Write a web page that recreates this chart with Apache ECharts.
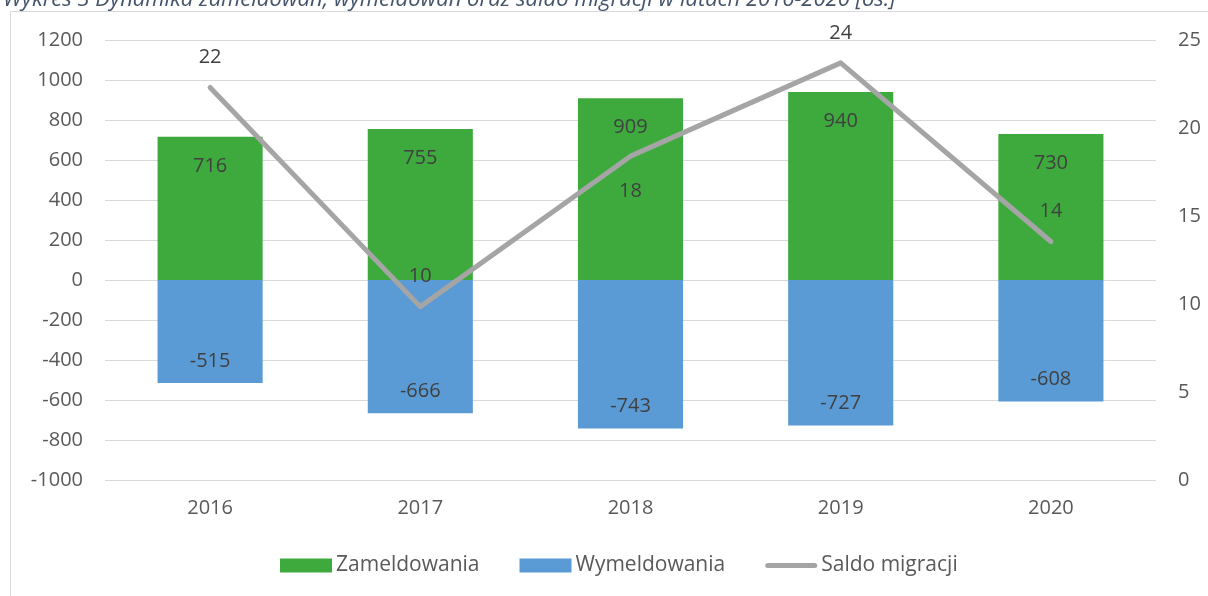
<!DOCTYPE html>
<html>
<head>
<meta charset="utf-8">
<script src="https://cdn.jsdelivr.net/npm/echarts@6/dist/echarts.min.js"></script>
<style>
  html, body { margin: 0; padding: 0; background: #fff; }
  #chart { width: 1208px; height: 596px; }
</style>
</head>
<body>
<div id="chart"></div>
<script>
const years = ['2016', '2017', '2018', '2019', '2020']
const zameldowania = [716, 755, 909, 940, 730]
const wymeldowania = [-515, -666, -743, -727, -608]
const saldo = [22.3, 9.85, 18.4, 23.7, 13.55]
// saldo label placement (18 sits under the line in the original)
const saldoLabelPos = ['top', 'top', 'bottom', 'top', 'top']

const font = 'Open Sans'
const tickColor = '#595959'
const labelColor = '#404040'

const chart = echarts.init(document.getElementById('chart'))

const option = {
  animation: false,
  textStyle: {fontFamily: font},
  title: {
    text: 'Wykres 3 Dynamika zameldowań, wymeldowań oraz saldo migracji w latach 2016-2020 [os.]',
    left: 3,
    top: -11,
    padding: 0,
    textStyle: {
      fontFamily: font,
      fontStyle: 'italic',
      fontWeight: 'normal',
      fontSize: 22,
      color: '#44546A'
    }
  },
  graphic: [{
    type: 'rect',
    shape: {x: 10.5, y: 11.5, width: 1400, height: 800},
    style: {fill: 'none', stroke: '#D9D9D9', lineWidth: 1},
    silent: true
  }],
  legend: {
    bottom: 15,
    left: 275,
    itemWidth: 52,
    itemHeight: 14,
    itemGap: 40,
    textStyle: {fontFamily: font, fontSize: 21, color: tickColor, padding: [0, 0, 0, -1]},
    data: [
      {name: 'Zameldowania', icon: 'rect'},
      {name: 'Wymeldowania', icon: 'rect'},
      {name: 'Saldo migracji', icon: 'path://M2.5,0h47a2.5,2.5,0,0,1,0,5h-47a2.5,2.5,0,0,1,0,-5z'}
    ]
  },
  grid: {left: 105, right: 52, top: 40, bottom: 116},
  xAxis: {
    type: 'category',
    data: years,
    axisLine: {show: false},
    axisTick: {show: false},
    axisLabel: {fontSize: 20, color: tickColor, margin: 18}
  },
  yAxis: [{
    type: 'value',
    min: -1000,
    max: 1200,
    interval: 200,
    axisLabel: {fontSize: 20, color: tickColor, margin: 22, formatter: (v) => String(v)},
    splitLine: {lineStyle: {color: '#D9D9D9', width: 1}}
  }, {
    type: 'value',
    min: 0,
    max: 25,
    interval: 5,
    axisLabel: {fontSize: 20, color: tickColor, margin: 22, formatter: (v) => String(v)},
    splitLine: {show: false}
  }],
  series: [{
    name: 'Zameldowania',
    type: 'bar',
    stack: 'ruch',
    barWidth: '50%',
    itemStyle: {color: '#3EAA3E'},
    label: {
      show: true,
      position: 'insideTop',
      distance: 19,
      fontSize: 20,
      color: labelColor
    },
    data: zameldowania
  }, {
    name: 'Wymeldowania',
    type: 'bar',
    stack: 'ruch',
    barWidth: '50%',
    itemStyle: {color: '#5B9BD5'},
    label: {
      show: true,
      position: 'insideBottom',
      distance: 12,
      fontSize: 20,
      color: labelColor
    },
    data: wymeldowania
  }, {
    name: 'Saldo migracji',
    type: 'line',
    yAxisIndex: 1,
    symbol: 'circle',
    symbolSize: 0,
    z: 5,
    lineStyle: {color: '#A5A5A5', width: 5, cap: 'round', join: 'round'},
    itemStyle: {color: '#A5A5A5'},
    label: {
      show: true,
      fontSize: 20,
      color: labelColor,
      formatter: (p) => Math.round(p.value)
    },
    data: saldo.map((v, i) => ({
      value: v,
      label: {position: saldoLabelPos[i], distance: saldoLabelPos[i] === 'top' ? 20 : 25}
    }))
  }]
}

chart.setOption(option)
</script>
</body>
</html>
